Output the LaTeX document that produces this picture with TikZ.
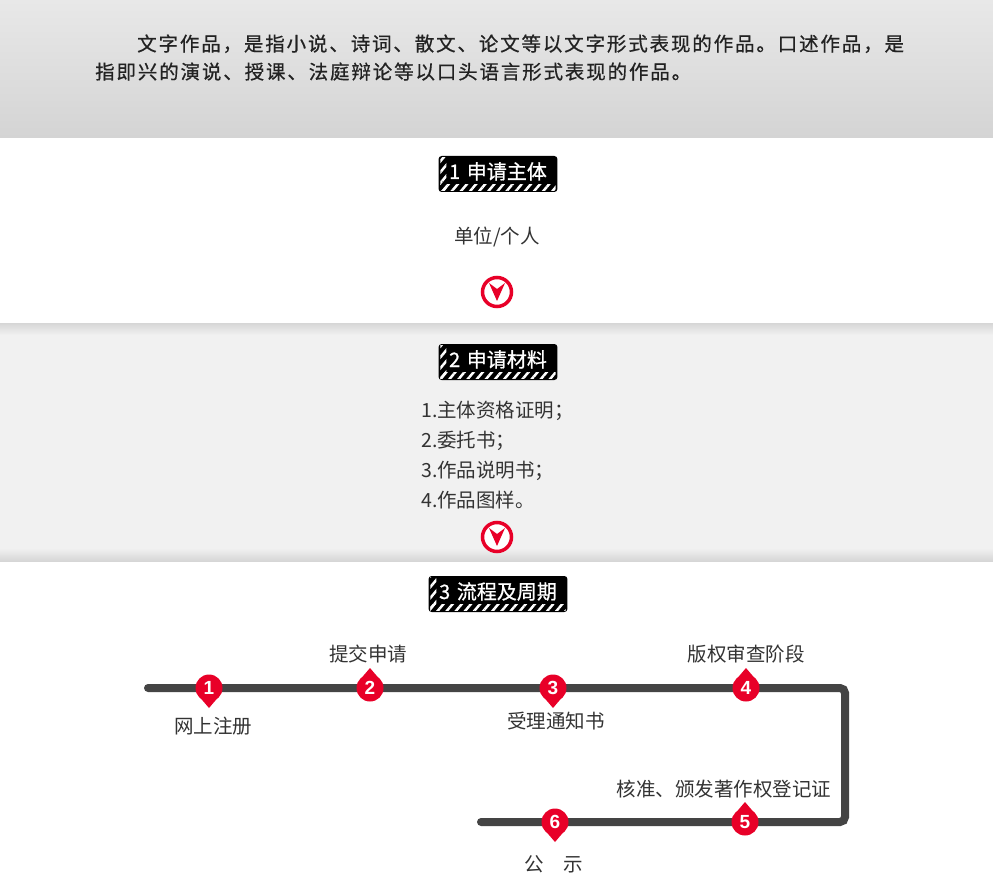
\documentclass[tikz,border=0pt]{standalone}
\usepackage{fontspec}
\setmainfont{Noto Sans CJK SC}
\newfontfamily\introfont[LetterSpace=9.5, FakeBold=0.6]{Noto Sans CJK SC}
\newfontfamily\tagfont[FakeBold=0.8]{Noto Sans CJK SC}
\newfontfamily\numfont{Liberation Sans}
\usetikzlibrary{positioning, calc, patterns.meta, shadows}
\definecolor{bandgray}{RGB}{241, 241, 241}
\definecolor{edgegray}{RGB}{214, 214, 214}
\definecolor{topa}{RGB}{232, 232, 232}
\definecolor{topb}{RGB}{212, 212, 212}
\definecolor{markred}{RGB}{232, 0, 40}
\definecolor{linegray}{RGB}{68, 68, 68}
\definecolor{txt}{RGB}{51, 51, 51}
\definecolor{introtxt}{RGB}{34, 34, 34}

\begin{document}
\begin{tikzpicture}[x=1pt, y=-1pt,
  tag/.style={fill=black, text=white, rounded corners=3pt, font=\tagfont\fontsize{20}{20}\selectfont,
    inner xsep=10.5pt, inner ysep=2pt, text height=21pt, text depth=11pt, anchor=base},
  lbl/.style={font=\fontsize{19.5}{19.5}\selectfont, text=txt, anchor=base, inner sep=0pt},
  marker/.style={circle, fill=markred, minimum size=27pt, inner sep=0pt, text=white,
    font=\numfont\bfseries\fontsize{19}{19}\selectfont},
  downarrow/.style={circle, draw=markred, line width=3.5pt, fill=white, minimum size=29pt,
    inner sep=0pt, drop shadow={opacity=0.2, shadow xshift=0pt, shadow yshift=-1.5pt}},
  stripes/.style={pattern={Lines[angle=50, distance=7pt, line width=2.5pt]}, pattern color=white},
]
\useasboundingbox (0,0) rectangle (993,893);

% Bands
\fill[white] (0,0) rectangle (993,893);
\shade[top color=topa, bottom color=topb] (0,0) rectangle (993,138);
\fill[bandgray] (0,323) rectangle (993,561);
\shade[top color=edgegray, bottom color=bandgray] (0,323) rectangle (993,335);
\shade[top color=bandgray, bottom color=edgegray] (0,548) rectangle (993,561);

% Intro text
\node[font=\introfont\fontsize{19.5}{19.5}\selectfont, text=introtxt, anchor=base west, inner sep=0pt]
  (intro1) at (137,51) {文字作品，是指小说、诗词、散文、论文等以文字形式表现的作品。口述作品，是};
\node[font=\introfont\fontsize{19.5}{19.5}\selectfont, text=introtxt, anchor=base west, inner sep=0pt]
  (intro2) at (95,79) {指即兴的演说、授课、法庭辩论等以口头语言形式表现的作品。};

% Step 1
\node[tag] (t1) at (498,179) {1\,\,申请主体};
\node[lbl] (unit) at (497,244) {单位/个人};
\node[downarrow] (a1) at (497,292) {};

% Step 2
\node[tag] (t2) at (498,367) {2\,\,申请材料};
\foreach \i/\s in {1/主体资格证明；, 2/委托书；, 3/作品说明书；, 4/作品图样。}
  \node[lbl, anchor=base west] (item\i) at (421,387+30*\i) {\i.\s};
\node[downarrow] (a2) at (497,537) {};

% Arrowheads in the circles
\foreach \a in {a1,a2}
  \fill[markred] ($(\a)+(-8,-9)$) -- ($(\a)+(0,-3)$) -- ($(\a)+(8,-9)$) -- ($(\a)+(0,9)$) -- cycle;

% Stripes of the tags
\node[tag] (t3) at (498,599) {3\,\,流程及周期};
\foreach \t in {t1,t2,t3} {
  \fill[stripes] ($(\t.north west)+(2,2)$) rectangle ($(\t.south west)+(8,-2)$);
  \fill[stripes] ($(\t.south west)+(2,-8)$) rectangle ($(\t.south east)+(-2,-2)$);
}

% Timeline
\coordinate (l0) at (148,688);
\coordinate (l1) at (845,688);
\coordinate (l2) at (845,822);
\coordinate (l3) at (481,822);
\draw[linegray, line width=8pt, line cap=round, rounded corners=5pt] (l0) -- (l1) -- (l2) -- (l3);

\node[marker] (m1) at (209,688) {1};
\node[marker] (m2) at (370,688) {2};
\node[marker] (m3) at (553,688) {3};
\node[marker] (m4) at (746,688) {4};
\node[marker] (m5) at (745,822) {5};
\node[marker] (m6) at (555,822) {6};
\foreach \m/\d in {m1/1, m2/-1, m3/1, m4/-1, m5/-1, m6/1}
  \fill[markred] ($(\m)+(-9.9,8.4*\d)$) -- ($(\m)+(0,20*\d)$) -- ($(\m)+(9.9,8.4*\d)$) -- cycle;

% Step labels
\node[lbl] (s1) at (213,733) {网上注册};
\node[lbl] (s2) at (368,661) {提交申请};
\node[lbl] (s3) at (556,728) {受理通知书};
\node[lbl] (s4) at (746,661) {版权审查阶段};
\node[lbl] (s5) at (724,796) {核准、颁发著作权登记证};
\node[lbl] (s6) at (554,871) {公　示};
\end{tikzpicture}
\end{document}
